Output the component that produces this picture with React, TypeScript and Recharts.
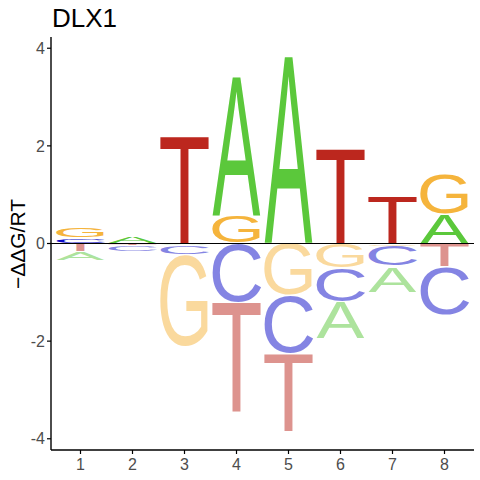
import { BarChart, Bar, XAxis, YAxis, ReferenceLine } from "recharts";

// energy logo values per position (−ΔΔG/RT)
const positions = ["1", "2", "3", "4", "5", "6", "7", "8"];
const energyA = [-0.19, 0.15, -0.03, 2.85, 3.83, -0.76, -0.53, 0.6];
const energyC = [0.12, -0.14, -0.2, -1.22, -1.19, -0.7, -0.42, -1.0];
const energyG = [0.22, 0, -1.9, 0.57, -1.07, -0.5, -0.05, 0.85];
const energyT = [-0.17, -0.04, 2.19, -2.25, -1.6, 1.93, 0.97, -0.47];
const yTicks = [-4, -2, 0, 2, 4];

const letters = ["A", "C", "G", "T"];
const energies = [energyA, energyC, energyG, energyT];
const colors: Record<string, string> = {
  A: "#5BC83B",
  C: "#0A0AC8",
  G: "#F5B43C",
  T: "#BC271E",
};

// glyph ink boxes (Liberation Sans units per 2048 em)
const glyphBox: Record<string, number[]> = {
  A: [-3, 1369, 0, 1409],
  C: [99, 1384, -24, 1433],
  G: [108, 1473, -24, 1433],
  T: [48, 1203, 0, 1409],
};

const RANKS = 4;

// each position sorted by magnitude so smaller letters sit next to zero
const rows = positions.map((pos, i) => {
  const row: Record<string, any> = { pos };
  const items = letters.map((l, k) => ({ l, v: energies[k][i] }));
  const up = items.filter((d) => d.v > 0).sort((a, b) => a.v - b.v);
  const down = items.filter((d) => d.v < 0).sort((a, b) => b.v - a.v);
  for (let r = 0; r < RANKS; r++) {
    row[`p${r}`] = up[r] ? up[r].v : 0;
    row[`pl${r}`] = up[r] ? up[r].l : null;
    row[`n${r}`] = down[r] ? down[r].v : 0;
    row[`nl${r}`] = down[r] ? down[r].l : null;
  }
  return row;
});

const makeShape = (letterKey: string, negative: boolean) => (props: any) => {
  const { x, y, width, height, payload } = props;
  const letter = payload ? payload[letterKey] : null;
  if (!letter || !height || !width) return <g />;
  let top = Math.min(y, y + height);
  let h = Math.abs(height);
  const inset = Math.min(0.7, h * 0.15);
  top += inset;
  h -= 2 * inset;
  const [x0, x1, y0, y1] = glyphBox[letter];
  const fs = 100;
  const inkW = ((x1 - x0) / 2048) * fs;
  const inkH = ((y1 - y0) / 2048) * fs;
  const sx = width / inkW;
  const sy = h / inkH;
  const tf = `translate(${x},${top}) scale(${sx},${sy}) translate(${(-x0 / 2048) * fs},${(y1 / 2048) * fs})`;
  return (
    <text
      transform={tf}
      fontSize={fs}
      fontFamily="'Liberation Sans', Arial, sans-serif"
      fill={colors[letter]}
      fillOpacity={negative ? 0.5 : 1}
    >
      {letter}
    </text>
  );
};

const YLabel = () => (
  <text
    x={25}
    y={244}
    transform="rotate(-90, 25, 244)"
    textAnchor="middle"
    fontSize={21}
    fontFamily="'Liberation Sans', Arial, sans-serif"
    fill="#000"
  >
    −ΔΔG/RT
  </text>
);

const tickStyle = {
  fill: "#4D4D4D",
  fontSize: 16,
  fontFamily: "'Liberation Sans', Arial, sans-serif",
};

export default function App() {
  const ranks = Array.from({ length: RANKS }, (_, r) => r);
  return (
    <div style={{ position: "absolute", left: 0, top: 0, width: 480, height: 480, background: "#fff" }}>
      <BarChart
        width={480}
        height={480}
        data={rows}
        stackOffset="sign"
        barCategoryGap={2}
        margin={{ top: 37, right: 6, bottom: 0, left: 0 }}
      >
        <XAxis
          dataKey="pos"
          height={30}
          padding={{ left: 3.5, right: 3.5 }}
          axisLine={{ stroke: "#000", strokeWidth: 1.4 }}
          tickLine={{ stroke: "#000", strokeWidth: 1.2 }}
          tickSize={4}
          tickMargin={5}
          tick={tickStyle}
        />
        <YAxis
          type="number"
          width={51}
          domain={[-4.23, 4.23]}
          ticks={yTicks}
          allowDataOverflow
          axisLine={{ stroke: "#000", strokeWidth: 1.4 }}
          tickLine={{ stroke: "#000", strokeWidth: 1.2 }}
          tickSize={4}
          tickMargin={2}
          tick={tickStyle}
          label={<YLabel />}
        />
        {ranks.map((r) => (
          <Bar
            key={`p${r}`}
            dataKey={`p${r}`}
            stackId="logo"
            isAnimationActive={false}
            shape={makeShape(`pl${r}`, false)}
          />
        ))}
        {ranks.map((r) => (
          <Bar
            key={`n${r}`}
            dataKey={`n${r}`}
            stackId="logo"
            isAnimationActive={false}
            shape={makeShape(`nl${r}`, true)}
          />
        ))}
        <ReferenceLine y={0} stroke="#000" strokeWidth={1} />
      </BarChart>
      <svg
        width={480}
        height={40}
        style={{ position: "absolute", left: 0, top: 0, pointerEvents: "none" }}
      >
        <text x={52} y={27} fontSize={26} fontFamily="'Liberation Sans', Arial, sans-serif" fill="#000">
          DLX1
        </text>
      </svg>
    </div>
  );
}
